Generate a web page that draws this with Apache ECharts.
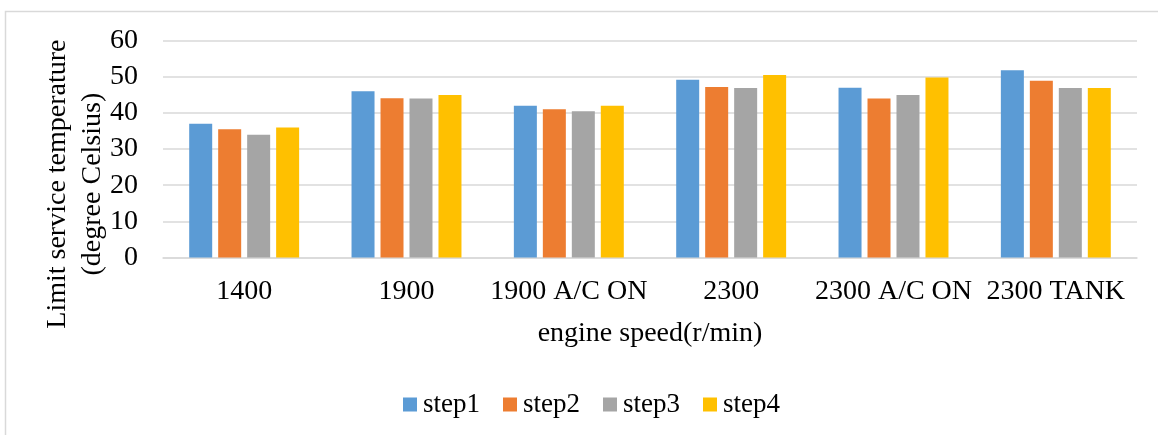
<!DOCTYPE html>
<html>
<head>
<meta charset="utf-8">
<script src="https://cdn.jsdelivr.net/npm/echarts@6/dist/echarts.min.js"></script>
<style>
html,body{margin:0;padding:0;background:#fff;}
#c{width:1158px;height:435px;}
</style>
</head>
<body>
<div id="c"></div>
<script>
const categories = ['1400', '1900', '1900 A/C ON', '2300', '2300 A/C ON', '2300 TANK'];
const seriesNames = ['step1', 'step2', 'step3', 'step4'];
const step1 = [37, 46, 42, 49.2, 47, 51.8];
const step2 = [35.5, 44.1, 41, 47.2, 44, 48.9];
const step3 = [34, 44, 40.5, 46.9, 45, 46.9];
const step4 = [36, 45, 42, 50.5, 49.8, 46.9];
const colors = ['#5B9BD5', '#ED7D31', '#A5A5A5', '#FFC000'];
const yTitle = 'Limit service temperature\n(degree Celsius)';
const xTitle = 'engine speed(r/min)';

const FONT = "'Liberation Serif', 'Times New Roman', serif";
const values = [step1, step2, step3, step4];

const chart = echarts.init(document.getElementById('c'), null, {renderer: 'canvas'});
chart.setOption({
  animation: false,
  textStyle: {fontFamily: FONT},
  color: colors,
  graphic: [{
    type: 'rect',
    shape: {x: 5.5, y: 11.5, width: 1200, height: 500},
    style: {fill: 'none', stroke: '#d9d9d9', lineWidth: 1.5},
    silent: true
  }],
  grid: {left: 163, right: 21, top: 40.7, bottom: 177.5, containLabel: false, outerBoundsMode: 'none'},
  legend: {
    left: 398,
    top: 386,
    itemWidth: 14,
    itemHeight: 14,
    itemGap: 23,
    icon: 'rect',
    textStyle: {fontFamily: FONT, fontSize: 27, color: '#000', padding: [0, 0, 0, 1]},
    data: seriesNames
  },
  xAxis: {
    type: 'category',
    data: categories,
    name: xTitle,
    nameLocation: 'middle',
    nameGap: 62,
    nameMoveOverlap: false,
    nameTextStyle: {fontFamily: FONT, fontSize: 28, color: '#000'},
    axisTick: {show: false},
    axisLine: {lineStyle: {color: '#d9d9d9', width: 1.5}},
    axisLabel: {fontFamily: FONT, fontSize: 28, color: '#000', margin: 20, interval: 0, hideOverlap: false}
  },
  yAxis: {
    type: 'value',
    min: 0,
    max: 60,
    interval: 10,
    name: yTitle,
    nameLocation: 'middle',
    nameRotate: 90,
    nameGap: 53,
    nameMoveOverlap: false,
    nameTextStyle: {fontFamily: FONT, fontSize: 28, color: '#000', lineHeight: 35, padding: [0, 70, 0, 0]},
    axisLine: {show: false},
    axisTick: {show: false},
    axisLabel: {fontFamily: FONT, fontSize: 28, color: '#000', margin: 25, showMinLabel: true, showMaxLabel: true, hideOverlap: false},
    splitLine: {lineStyle: {color: '#d9d9d9', width: 1.5}}
  },
  series: seriesNames.map((n, i) => ({
    name: n,
    type: 'bar',
    data: values[i],
    barWidth: 23,
    barGap: '26%',
    itemStyle: {color: colors[i]}
  }))
});
</script>
</body>
</html>
